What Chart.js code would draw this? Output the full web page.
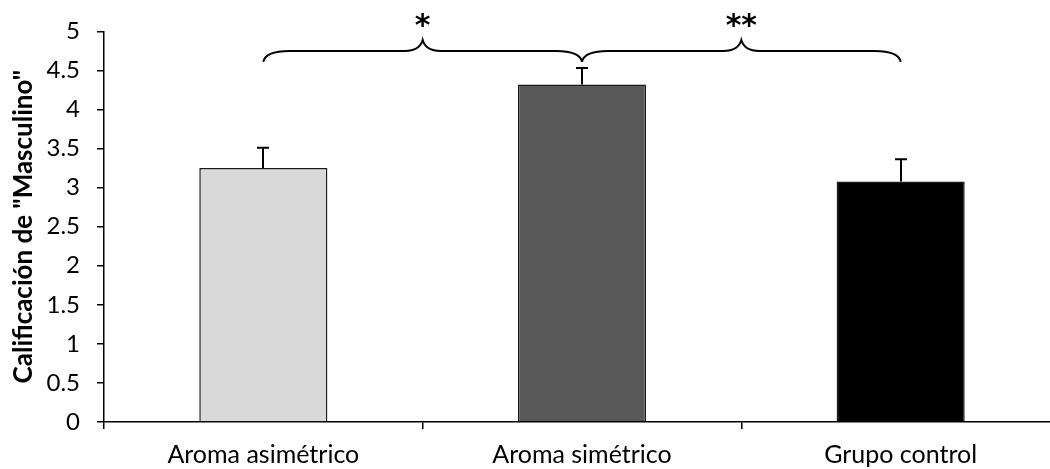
<!DOCTYPE html>
<html>
<head>
<meta charset="utf-8">
<script src="https://cdn.jsdelivr.net/npm/chart.js@4.4.1/dist/chart.umd.min.js"></script>
<style>
html,body{margin:0;padding:0;background:#fff;overflow:hidden;}
#wrap{width:1050px;height:469px;overflow:hidden;position:relative;}
canvas{display:block;}
</style>
</head>
<body>
<div id="wrap"><canvas id="c" width="1060" height="469"></canvas></div>
<script>
const categories = ['Aroma asimétrico', 'Aroma simétrico', 'Grupo control'];
const means = [3.25, 4.32, 3.08];
const errors = [0.26, 0.21, 0.285];
const barColors = ['#d9d9d9', '#595959', '#000000'];
const yAxisTitle = 'Calificación de "Masculino"';
const sigFrom = [0, 1];
const sigTo = [1, 2];
const sigLabels = ['*', '**'];
const braceLevel = 4.75;
const braceEnd = 4.61;
const braceTip = 4.89;

const FONT = 'Lato, "Open Sans", sans-serif';

const errorBarPlugin = {
  id: 'errorBars',
  afterDatasetsDraw(chart) {
    const ctx = chart.ctx;
    const meta = chart.getDatasetMeta(0);
    const y = chart.scales.y;
    ctx.save();
    ctx.strokeStyle = '#000';
    ctx.lineWidth = 2;
    meta.data.forEach((bar, i) => {
      const x = Math.round(bar.x);
      const yTop = y.getPixelForValue(means[i] + errors[i]);
      const yBase = y.getPixelForValue(means[i]);
      ctx.beginPath();
      ctx.moveTo(x, yBase);
      ctx.lineTo(x, yTop);
      ctx.moveTo(x - 6, yTop);
      ctx.lineTo(x + 6, yTop);
      ctx.stroke();
    });
    ctx.restore();
  }
};

const bracePlugin = {
  id: 'braces',
  afterDraw(chart) {
    const ctx = chart.ctx;
    const xs = chart.scales.x;
    const ys = chart.scales.y;
    const yb = ys.getPixelForValue(braceLevel);
    const ye = ys.getPixelForValue(braceEnd);
    const yt = ys.getPixelForValue(braceTip);
    ctx.save();
    ctx.strokeStyle = '#000';
    ctx.lineWidth = 2;
    sigLabels.forEach((lab, k) => {
      const x1 = xs.getPixelForValue(sigFrom[k]);
      const x2 = xs.getPixelForValue(sigTo[k]);
      const xm = (x1 + x2) / 2;
      ctx.beginPath();
      ctx.moveTo(x1, ye);
      ctx.quadraticCurveTo(x1 + 2, yb, x1 + 26, yb);
      ctx.lineTo(xm - 18, yb);
      ctx.quadraticCurveTo(xm - 3, yb, xm, yt);
      ctx.quadraticCurveTo(xm + 3, yb, xm + 18, yb);
      ctx.lineTo(x2 - 26, yb);
      ctx.quadraticCurveTo(x2 - 2, yb, x2, ye);
      ctx.stroke();
      ctx.fillStyle = '#000';
      ctx.font = 'bold 30px "DejaVu Sans", sans-serif';
      ctx.textAlign = 'center';
      ctx.textBaseline = 'alphabetic';
      const m = ctx.measureText(lab);
      const gTop = m.actualBoundingBoxAscent, gBot = -m.actualBoundingBoxDescent;
      const centerY = yt - 19;
      ctx.fillText(lab, xm, centerY + (gTop + gBot) / 2);
    });
    ctx.restore();
  }
};

new Chart(document.getElementById('c'), {
  type: 'bar',
  data: {
    labels: categories,
    datasets: [{
      data: means,
      backgroundColor: barColors,
      borderColor: '#1a1a1a',
      borderWidth: 1.5,
      barPercentage: 1,
      categoryPercentage: 0.402
    }]
  },
  options: {
    responsive: false,
    animation: false,
    devicePixelRatio: 1,
    layout: { padding: { top: 31, right: 0, left: 0, bottom: 0 } },
    plugins: { legend: { display: false }, tooltip: { enabled: false } },
    scales: {
      x: {
        offset: true,
        grid: { display: true, drawOnChartArea: false, drawTicks: true, tickLength: 7, color: '#000', lineWidth: 1.5, offset: true },
        border: { display: true, color: '#000', width: 1.5 },
        ticks: { color: '#000', font: { family: FONT, size: 25 }, padding: 11, maxRotation: 0 },
        afterFit(scale) { scale.height = 47; }
      },
      y: {
        min: 0,
        max: 5,
        ticks: { stepSize: 0.5, color: '#000', font: { family: FONT, size: 24 }, padding: 17, callback: v => String(v) },
        grid: { display: true, drawOnChartArea: false, drawTicks: true, tickLength: 7, color: '#000', lineWidth: 1.5 },
        border: { display: true, color: '#000', width: 1.5 },
        title: { display: true, text: yAxisTitle, color: '#000', font: { family: FONT, size: 26, weight: 'bold' }, padding: { top: 8, bottom: 0 } },
        afterFit(scale) { scale.width = 104; }
      }
    }
  },
  plugins: [errorBarPlugin, bracePlugin]
});
</script>
</body>
</html>
